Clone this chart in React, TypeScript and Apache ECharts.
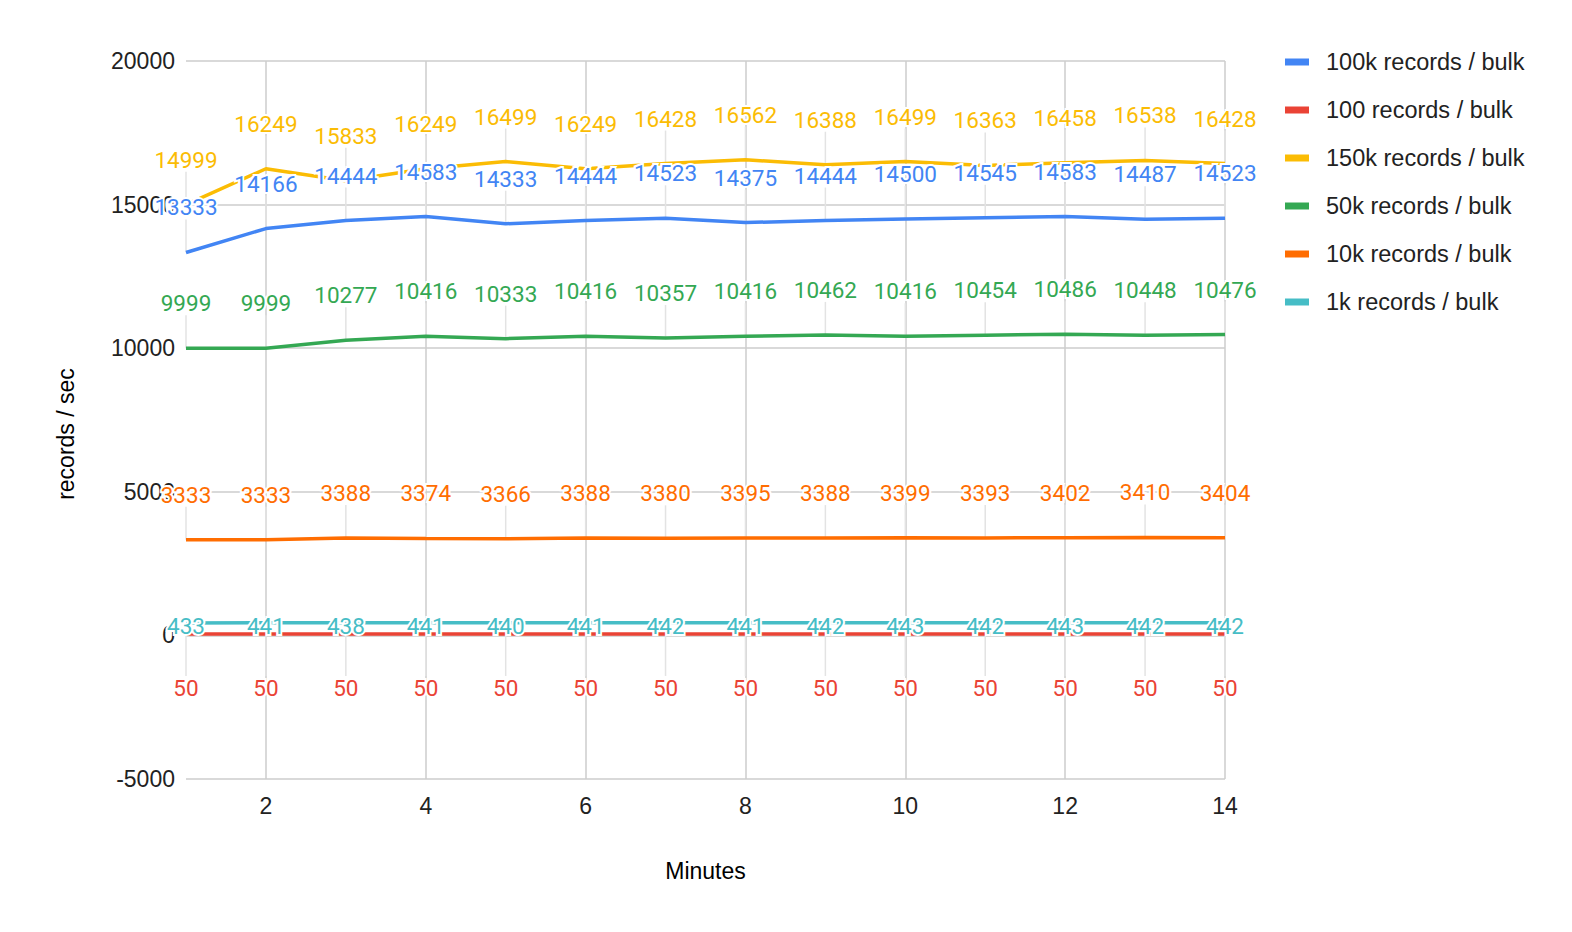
import React, { useEffect, useRef } from "react";
import * as echarts from "echarts";

const minutes = ["1", "2", "3", "4", "5", "6", "7", "8", "9", "10", "11", "12", "13", "14"];

const seriesNames = [
  "100k records / bulk",
  "100 records / bulk",
  "150k records / bulk",
  "50k records / bulk",
  "10k records / bulk",
  "1k records / bulk",
];

const seriesColors = ["#4285F4", "#EA4335", "#FBBC04", "#34A853", "#FF6D01", "#46BDC6"];

const rec100k = [13333, 14166, 14444, 14583, 14333, 14444, 14523, 14375, 14444, 14500, 14545, 14583, 14487, 14523];
const rec100 = [50, 50, 50, 50, 50, 50, 50, 50, 50, 50, 50, 50, 50, 50];
const rec150k = [14999, 16249, 15833, 16249, 16499, 16249, 16428, 16562, 16388, 16499, 16363, 16458, 16538, 16428];
const rec50k = [9999, 9999, 10277, 10416, 10333, 10416, 10357, 10416, 10462, 10416, 10454, 10486, 10448, 10476];
const rec10k = [3333, 3333, 3388, 3374, 3366, 3388, 3380, 3395, 3388, 3399, 3393, 3402, 3410, 3404];
const rec1k = [433, 441, 438, 441, 440, 441, 442, 441, 442, 443, 442, 443, 442, 442];

const seriesValues = [rec100k, rec100, rec150k, rec50k, rec10k, rec1k];

// label placement per series: "top", "bottom", "inside"
const labelPlacement = ["top", "bottom", "top", "top", "top", "inside"];

const yTicks = { min: -5000, max: 20000, interval: 5000 };

const LABEL_FONT = "Roboto";
const AXIS_FONT = "Liberation Sans, Arial, sans-serif";
const TOP_DIST = 33;
const BOTTOM_DIST = 42;

export default function App() {
  const ref = useRef<HTMLDivElement>(null);

  useEffect(() => {
    if (!ref.current) return;
    const chart = echarts.init(ref.current, undefined, { renderer: "svg" });

    const lineSeries = seriesNames.map((name, i) => ({
      type: "line",
      name,
      data: seriesValues[i],
      showSymbol: false,
      symbol: "none",
      lineStyle: { color: seriesColors[i], width: 3.5 },
      itemStyle: { color: seriesColors[i] },
      z: 3,
      silent: true,
    }));

    const stemSeries = seriesNames
      .map((name, i) => ({ i }))
      .filter(({ i }) => labelPlacement[i] !== "inside")
      .map(({ i }) => ({
        type: "custom",
        data: seriesValues[i].map((v, k) => [k, v]),
        encode: { x: 0, y: 1 },
        z: 2,
        silent: true,
        renderItem: (params: any, api: any) => {
          const p = api.coord([api.value(0), api.value(1)]);
          const dy = labelPlacement[i] === "top" ? -TOP_DIST : BOTTOM_DIST;
          return {
            type: "line",
            shape: { x1: p[0], y1: p[1], x2: p[0], y2: p[1] + dy },
            style: { stroke: "#e3e3e3", lineWidth: 1.5 },
          };
        },
      }));

    const labelSeries = seriesNames.map((name, i) => ({
      type: "scatter",
      data: seriesValues[i],
      symbolSize: 1,
      itemStyle: { color: "transparent", opacity: 1 },
      z: 10,
      silent: true,
      label: {
        show: true,
        position: labelPlacement[i],
        distance: labelPlacement[i] === "top" ? TOP_DIST : labelPlacement[i] === "bottom" ? BOTTOM_DIST : 0,
        offset: labelPlacement[i] === "inside" ? [0, 3] : [0, 0],
        color: seriesColors[i],
        opacity: 1,
        fontFamily: LABEL_FONT,
        fontSize: 22.5,
        textBorderColor: "#ffffff",
        textBorderWidth: 4,
        formatter: (p: any) => String(p.value),
      },
    }));

    const option: any = {
      animation: false,
      backgroundColor: "#ffffff",
      textStyle: { fontFamily: AXIS_FONT },
      grid: { left: 186, right: 347, top: 61, bottom: 153, containLabel: false },
      legend: {
        orient: "vertical",
        left: 1280,
        top: 45,
        icon: "rect",
        itemWidth: 24,
        itemHeight: 7,
        itemGap: 24,
        data: seriesNames,
        textStyle: { color: "#222", fontSize: 23.5, fontFamily: AXIS_FONT, lineHeight: 24, padding: [0, 0, 0, 12] },
      },
      graphic: [
        {
          type: "text",
          x: 66,
          y: 434,
          rotation: Math.PI / 2,
          style: {
            text: "records / sec",
            fill: "#000",
            fontSize: 23,
            fontFamily: AXIS_FONT,
            align: "center",
            verticalAlign: "middle",
          },
        },
      ],
      xAxis: {
        type: "category",
        data: minutes,
        boundaryGap: false,
        name: "Minutes",
        nameLocation: "middle",
        nameGap: 80,
        nameTextStyle: { color: "#000", fontSize: 23, fontFamily: AXIS_FONT },
        axisLine: { show: false },
        axisTick: { show: false },
        axisLabel: {
          interval: (idx: number) => idx % 2 === 1,
          color: "#222",
          fontSize: 23,
          fontFamily: AXIS_FONT,
          margin: 15,
        },
        splitLine: {
          show: true,
          interval: (idx: number) => idx % 2 === 1,
          lineStyle: { color: "#cccccc", width: 1.5 },
        },
      },
      yAxis: {
        type: "value",
        min: yTicks.min,
        max: yTicks.max,
        interval: yTicks.interval,
        axisLine: { show: false },
        axisTick: { show: false },
        axisLabel: {
          color: "#222",
          fontSize: 23,
          fontFamily: AXIS_FONT,
          margin: 11,
          formatter: (v: number) => String(v),
        },
        splitLine: { show: true, lineStyle: { color: "#cccccc", width: 1.5 } },
      },
      series: [...stemSeries, ...lineSeries, ...labelSeries],
    };

    chart.setOption(option);
    return () => chart.dispose();
  }, []);

  return (
    <div
      ref={ref}
      style={{ position: "fixed", left: 0, top: 0, width: 1572, height: 932, background: "#fff" }}
    />
  );
}
